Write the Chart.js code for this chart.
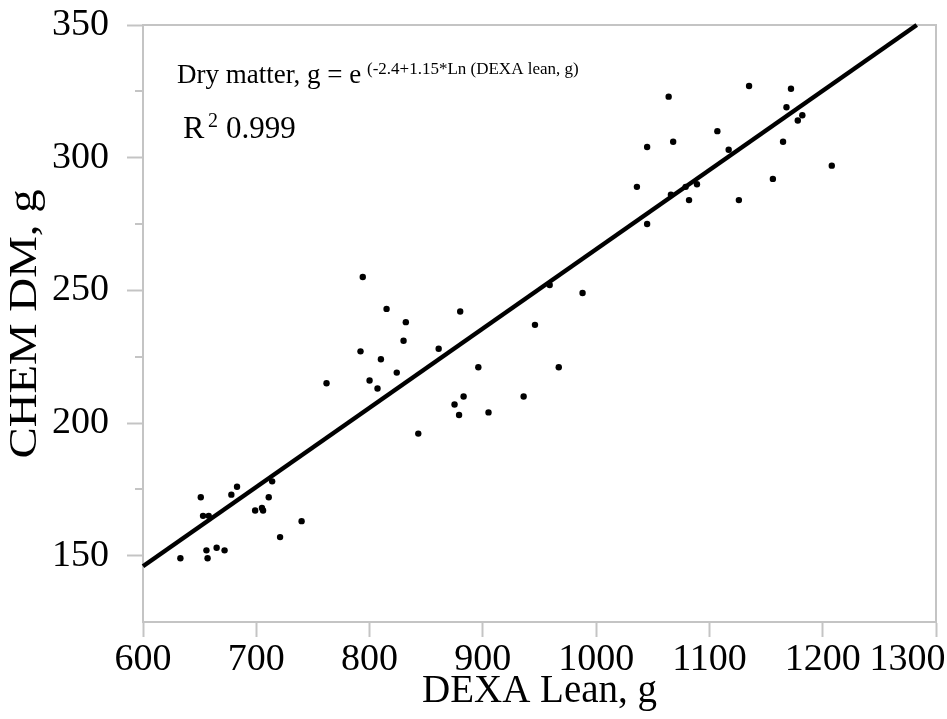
<!DOCTYPE html>
<html><head><meta charset="utf-8">
<script src="https://cdn.jsdelivr.net/npm/chart.js@4.4.1/dist/chart.umd.min.js"></script>
<style>html,body{margin:0;padding:0;background:#fff;}</style>
</head><body>
<canvas id="c" width="947" height="719"></canvas>
<script>
const dexaLean = [651, 683, 678, 653, 658, 714, 711, 699, 705, 706, 740, 721, 633, 656, 657, 665, 672,
  794, 815, 832, 830, 792, 810, 824, 762, 800, 807, 861, 880, 896, 883, 875, 879, 905, 843, 936, 946, 959, 988, 967,
  1064, 1135, 1172, 1168, 1045, 1068, 1107, 1117, 1178, 1182, 1165, 1036, 1066, 1079, 1089, 1082, 1126, 1156, 1208, 1045];
const chemDM = [172, 176, 173, 165, 165, 178, 172, 167, 168, 167, 163, 157, 149, 152, 149, 153, 152,
  255, 243, 238, 231, 227, 224, 219, 215, 216, 213, 228, 242, 221, 210, 207, 203, 204, 196, 210, 237, 252, 249, 221,
  323, 327, 326, 319, 304, 306, 310, 303, 314, 316, 306, 289, 286, 289, 290, 284, 284, 292, 297, 275];
const fitLineX = [600, 1283];
const fitLineY = [146, 350];
const xTickValues = [600, 700, 800, 900, 1000, 1100, 1200, 1300];
const yLabelValues = [150, 200, 250, 300, 350];
const xTitle = 'DEXA Lean, g';
const yTitle = 'CHEM DM, g';
const eqMain = 'Dry matter, g = e';
const eqSup = '(-2.4+1.15*Ln (DEXA lean, g)';
const r2Label = 'R';
const r2Sup = '2';
const r2Value = '0.999';

const GRAY = '#c4c4c4';
const FONT = '"Liberation Serif", "Times New Roman", serif';

const framePlugin = {
  id: 'frame',
  beforeDatasetsDraw(chart) {
    const {ctx, chartArea: a, scales: {y}} = chart;
    ctx.save();
    ctx.strokeStyle = GRAY;
    ctx.lineWidth = 2;
    ctx.beginPath();
    ctx.moveTo(a.left, a.top);
    ctx.lineTo(a.right, a.top);
    ctx.lineTo(a.right, a.bottom);
    ctx.stroke();
    y.ticks.forEach(t => {
      if (!yLabelValues.includes(t.value) && t.value !== y.min) {
        const py = Math.round(y.getPixelForValue(t.value));
        ctx.beginPath();
        ctx.moveTo(a.left - 8, py);
        ctx.lineTo(a.left, py);
        ctx.stroke();
      }
    });
    ctx.restore();
  },
  afterDraw(chart) {
    const {ctx, chartArea: a} = chart;
    ctx.save();
    ctx.fillStyle = '#000';
    ctx.textBaseline = 'alphabetic';
    ctx.textAlign = 'left';
    ctx.font = '27px ' + FONT;
    ctx.fillText(eqMain, 177, 83);
    ctx.font = '17px ' + FONT;
    ctx.fillText(eqSup, 367, 74);
    ctx.font = '32px ' + FONT;
    ctx.fillText(r2Label, 183, 138);
    ctx.font = '20px ' + FONT;
    ctx.fillText(r2Sup, 208, 127);
    ctx.font = '31px ' + FONT;
    ctx.fillText(r2Value, 226, 138);
    // y axis title, rotated
    ctx.translate(26, 324);
    ctx.rotate(-Math.PI / 2);
    ctx.scale(1.2, 1);
    ctx.textAlign = 'center';
    ctx.textBaseline = 'middle';
    ctx.font = '39px ' + FONT;
    ctx.fillText(yTitle, 0, 0);
    ctx.restore();
  }
};

new Chart(document.getElementById('c'), {
  data: {
    datasets: [
      {
        type: 'scatter',
        data: dexaLean.map((v, i) => ({x: v, y: chemDM[i]})),
        backgroundColor: '#000',
        borderWidth: 0,
        pointRadius: 3.2,
        pointHoverRadius: 3.2
      },
      {
        type: 'line',
        data: fitLineX.map((v, i) => ({x: v, y: fitLineY[i]})),
        borderColor: '#000',
        borderWidth: 4.5,
        pointRadius: 0,
        fill: false,
        clip: false
      }
    ]
  },
  options: {
    responsive: false,
    animation: false,
    devicePixelRatio: 1,
    layout: {padding: {left: 0, right: 11, top: 25, bottom: 0}},
    plugins: {legend: {display: false}, tooltip: {enabled: false}},
    scales: {
      x: {
        type: 'linear',
        min: 600, max: 1300,
        afterBuildTicks: s => { s.ticks = xTickValues.map(v => ({value: v})); },
        afterFit: s => { s.height = 97; s.paddingLeft = 0; s.paddingRight = 0; },
        ticks: {
          font: {family: FONT, size: 38},
          color: '#000',
          padding: 0,
          maxRotation: 0,
          autoSkip: false,
          callback: v => v === 1300 ? '1300      ' : String(v)
        },
        grid: {drawOnChartArea: false, drawTicks: true, tickLength: 15, tickColor: GRAY, tickWidth: 2},
        border: {display: true, color: GRAY, width: 2},
        title: {display: true, text: xTitle, color: '#000', font: {family: FONT, size: 39}, padding: {top: 0, bottom: 4}}
      },
      y: {
        type: 'linear',
        min: 125, max: 350,
        ticks: {
          stepSize: 25,
          font: {family: FONT, size: 38},
          color: '#000',
          padding: 18,
          callback: v => yLabelValues.includes(v) ? String(v) : ''
        },
        afterFit: s => { s.width = 143; s.paddingTop = 0; s.paddingBottom = 0; },
        grid: {
          drawOnChartArea: false, drawTicks: true, tickLength: 16, tickWidth: 2,
          tickColor: c => yLabelValues.includes(c.tick.value) ? GRAY : 'rgba(0,0,0,0)'
        },
        border: {display: true, color: GRAY, width: 2},
        title: {display: false}
      }
    }
  },
  plugins: [framePlugin]
});
</script>
</body></html>
